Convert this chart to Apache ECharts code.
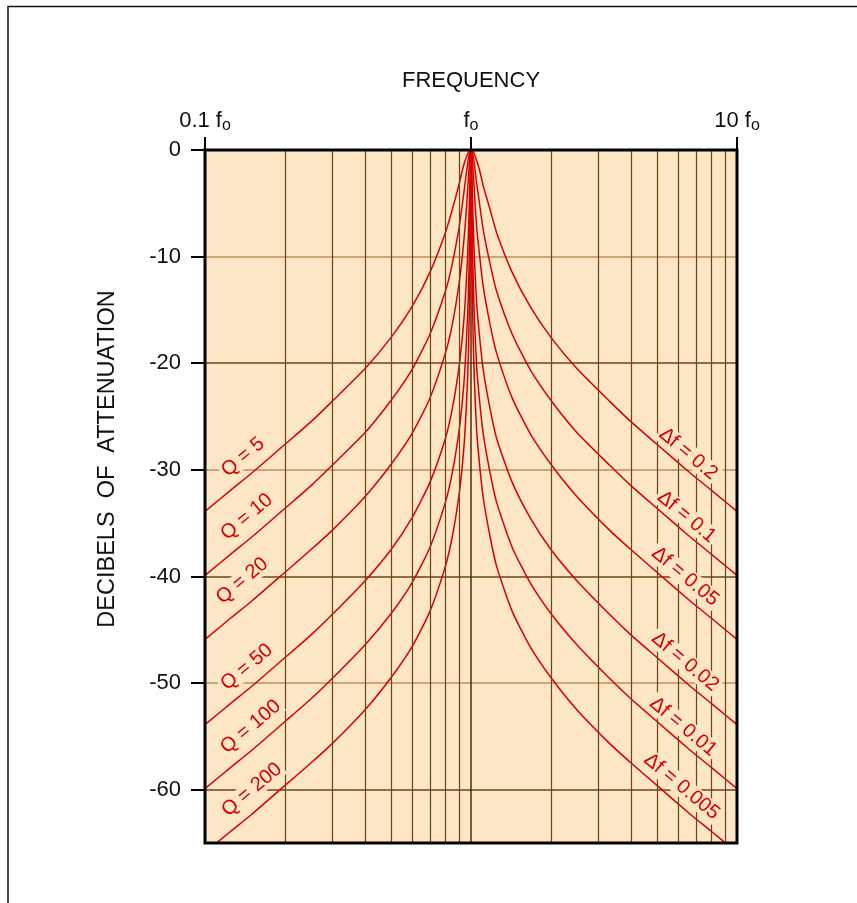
<!DOCTYPE html>
<html>
<head>
<meta charset="utf-8">
<script src="https://cdn.jsdelivr.net/npm/echarts@6/dist/echarts.min.js"></script>
<style>
  html, body { margin: 0; padding: 0; background: #fff; }
  #chart { width: 857px; height: 903px; }
</style>
</head>
<body>
<div id="chart"></div>
<script>
// frequency as a multiple of fo
const freq = [0.1, 0.125, 0.15, 0.2, 0.25, 0.3, 0.4, 0.5, 0.6, 0.7, 0.8, 0.85, 0.9, 0.93, 0.95, 0.97, 0.98, 0.99, 0.995, 1,
  1.005, 1.01, 1.02, 1.03, 1.05, 1.075, 1.11, 1.18, 1.25, 1.43, 1.67, 2, 2.5, 3.33, 4, 5, 6.67, 8, 10];

// attenuation in dB, one list per curve
const q5 = [-33.9, -31.9, -30.3, -27.6, -25.5, -23.6, -20.5, -17.6, -14.7, -11.5, -7.8, -5.6, -3.3, -1.8, -1.0, -0.4, -0.2, -0.04, -0.01, 0,
  -0.01, -0.04, -0.2, -0.4, -1.0, -1.8, -3.3, -5.6, -7.8, -11.5, -14.7, -17.6, -20.5, -23.6, -25.5, -27.6, -30.3, -31.9, -33.9];
const q10 = [-39.9, -37.9, -36.3, -33.6, -31.5, -29.6, -26.5, -23.5, -20.6, -17.3, -13.3, -10.7, -7.4, -4.9, -3.1, -1.4, -0.66, -0.17, -0.04, 0,
  -0.04, -0.17, -0.66, -1.4, -3.1, -4.9, -7.4, -10.7, -13.3, -17.3, -20.6, -23.5, -26.5, -29.6, -31.5, -33.6, -36.3, -37.9, -39.9];
const q20 = [-45.9, -43.9, -42.3, -39.6, -37.5, -35.7, -32.5, -29.5, -26.6, -23.3, -19.1, -16.4, -12.7, -9.7, -7.2, -4.0, -2.2, -0.65, -0.17, 0,
  -0.17, -0.65, -2.2, -4.0, -7.2, -9.7, -12.7, -16.4, -19.1, -23.3, -26.6, -29.5, -32.5, -35.7, -37.5, -39.6, -42.3, -43.9, -45.9];
const q50 = [-53.9, -51.9, -50.3, -47.6, -45.5, -43.6, -40.4, -37.5, -34.5, -31.2, -27.1, -24.3, -20.5, -17.3, -14.4, -10.1, -7.1, -3.0, -0.97, 0,
  -0.97, -3.0, -7.1, -10.1, -14.4, -17.3, -20.5, -24.3, -27.1, -31.2, -34.5, -37.5, -40.4, -43.6, -45.5, -47.6, -50.3, -51.9, -53.9];
const q100 = [-59.9, -57.9, -56.3, -53.6, -51.5, -49.6, -46.4, -43.5, -40.6, -37.3, -33.1, -30.3, -26.5, -23.3, -20.3, -15.8, -12.4, -7.0, -3.0, 0,
  -3.0, -7.0, -12.4, -15.8, -20.3, -23.3, -26.5, -30.3, -33.1, -37.3, -40.6, -43.5, -46.4, -49.6, -51.5, -53.6, -56.3, -57.9, -59.9];
const q200 = [-65.9, -63.9, -62.3, -59.6, -57.5, -55.7, -52.5, -49.5, -46.6, -43.3, -39.1, -36.3, -32.5, -29.3, -26.3, -21.7, -18.2, -12.3, -7.0, 0,
  -7.0, -12.3, -18.2, -21.7, -26.3, -29.3, -32.5, -36.3, -39.1, -43.3, -46.6, -49.5, -52.5, -55.7, -57.5, -59.6, -62.3, -63.9, -65.9];

const qNames = ["Q = 5", "Q = 10", "Q = 20", "Q = 50", "Q = 100", "Q = 200"];
const dfNames = ["\u0394f = 0.2", "\u0394f = 0.1", "\u0394f = 0.05", "\u0394f = 0.02", "\u0394f = 0.01", "\u0394f = 0.005"];

// where the curve names sit (frequency, dB)
const leftLabelF = [0.139, 0.1435, 0.138, 0.1435, 0.1485, 0.15];
const leftLabelDb = [-28.8, -34.4, -40.4, -48.5, -54.1, -60.0];
const rightLabelF = [6.56, 6.47, 6.38, 6.38, 6.28, 6.2];
const rightLabelDb = [-28.5, -34.4, -40.0, -48.0, -54.1, -59.7];

// extra vertical grid lines between the decades
const gridFreqs = [0.2, 0.3, 0.4, 0.5, 0.6, 0.7, 0.8, 0.9, 2, 3, 4, 5, 6, 7, 8, 9];
const yTicks = [0, -10, -20, -30, -40, -50, -60];
const xTickText = { "-1": "0.1 ", "0": "", "1": "10 " };

const curves = [q5, q10, q20, q50, q100, q200];
const RED = "#d70000";
const PAPER = "#fde6c5";
const FONT = "Liberation Sans";

const series = [
  {
    type: "line",
    data: [],
    z: 1,
    silent: true,
    markLine: {
      silent: true,
      symbol: "none",
      label: { show: false },
      animation: false,
      lineStyle: { color: "#6a4514", width: 1.2, type: "solid" },
      data: gridFreqs.map((v) => ({ xAxis: v })),
    },
  },
];

curves.forEach((vals, i) => {
  series.push({
    type: "line",
    z: 3,
    data: freq.map((f, j) => [f, vals[j]]),
    symbol: "none",
    smooth: 0.2,
    lineStyle: { color: RED, width: 1.5 },
    markPoint: {
      symbol: "circle",
      symbolSize: 0,
      animation: false,
      label: {
        show: true,
        position: "inside",
        formatter: "{b}",
        color: RED,
        fontSize: 20,
        fontFamily: FONT,
        backgroundColor: PAPER,
        padding: [0, 2],
      },
      data: [
        { name: qNames[i], coord: [leftLabelF[i], leftLabelDb[i]], label: { rotate: 40 } },
        { name: dfNames[i], coord: [rightLabelF[i], rightLabelDb[i]], label: { rotate: -40 } },
      ],
    },
  });
});

const chart = echarts.init(document.getElementById("chart"));
chart.setOption({
  animation: false,
  backgroundColor: "#fff",
  grid: {
    left: 205,
    top: 150,
    width: 532,
    height: 693,
    show: true,
    backgroundColor: PAPER,
    borderWidth: 0,
  },
  xAxis: {
    type: "log",
    logBase: 10,
    min: 0.1,
    max: 10,
    position: "top",
    name: "FREQUENCY",
    nameLocation: "middle",
    nameGap: 58,
    nameTextStyle: { fontSize: 22, fontFamily: FONT, color: "#111" },
    axisLine: { show: false },
    axisTick: { show: true, length: 13, lineStyle: { color: "#000", width: 2 } },
    axisLabel: {
      margin: 16,
      color: "#111",
      fontSize: 22,
      fontFamily: FONT,
      formatter: (v) => xTickText[String(Math.round(Math.log10(v)))] + "f{o|o}",
      rich: {
        o: { fontSize: 16, fontFamily: FONT, color: "#111", padding: [11, 0, 0, 0] },
      },
    },
    splitLine: { show: true, lineStyle: { color: "#4a2e08", width: 1.5 } },
  },
  yAxis: {
    type: "value",
    min: -65,
    max: 0,
    interval: 5,
    axisLine: { show: false },
    axisTick: { show: true, length: 14, customValues: yTicks, lineStyle: { color: "#000", width: 2 } },
    axisLabel: {
      margin: 24,
      color: "#111",
      fontSize: 22,
      fontFamily: FONT,
      customValues: yTicks,
      formatter: (v) => (v % 10 === 0 ? String(v) : ""),
    },
    splitLine: { show: true, lineStyle: { color: ["#6a4514", "#b8915a"], width: 1.5 } },
  },
  graphic: [
    {
      type: "rect",
      z: 100,
      silent: true,
      shape: { x: 205, y: 150, width: 532, height: 693 },
      style: { fill: "none", stroke: "#000", lineWidth: 3 },
    },
    {
      type: "text",
      x: 108,
      y: 459,
      rotation: Math.PI / 2,
      style: {
        text: "DECIBELS  OF  ATTENUATION",
        fill: "#111",
        font: "23.5px 'Liberation Sans'",
        align: "center",
        verticalAlign: "middle",
      },
    },
    {
      type: "polyline",
      silent: true,
      shape: { points: [[8, 903], [8, 6.5], [857, 6.5]] },
      style: { fill: "none", stroke: "#111", lineWidth: 1.5 },
    },
  ],
  series: series,
});
</script>
</body>
</html>
